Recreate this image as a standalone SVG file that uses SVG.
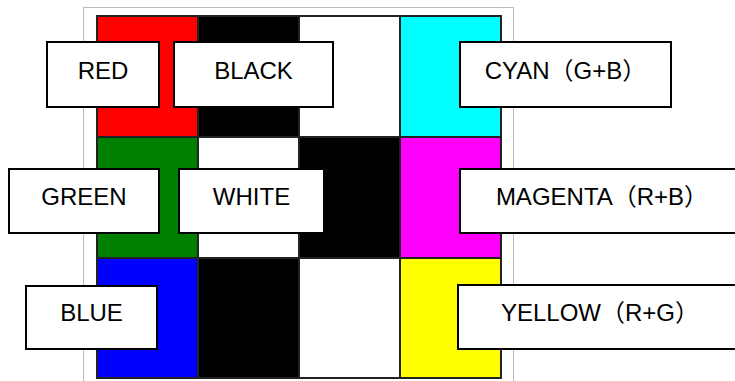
<svg xmlns="http://www.w3.org/2000/svg" width="735" height="381" viewBox="0 0 735 381">
<style>
.cell{stroke:#222;stroke-width:2}
.box rect{fill:#fff;stroke:#000;stroke-width:2}
.box text{font-family:"Liberation Sans","Noto Sans CJK SC",Arial,sans-serif;font-size:24px;fill:#000;text-anchor:middle}
</style>
<rect x="0" y="0" width="735" height="381" fill="#fff"/>
<rect x="83.5" y="7.5" width="430" height="380" fill="#fff" stroke="#bbb" stroke-width="1"/>
<g id="pattern">
<rect class="cell" x="97" y="16" width="101" height="121" fill="#ff0000"/>
<rect class="cell" x="198" y="16" width="101" height="121" fill="#000"/>
<rect class="cell" x="299" y="16" width="101" height="121" fill="#fff"/>
<rect class="cell" x="400" y="16" width="101" height="121" fill="#00ffff"/>
<rect class="cell" x="97" y="137" width="101" height="121" fill="#008000"/>
<rect class="cell" x="198" y="137" width="101" height="121" fill="#fff"/>
<rect class="cell" x="299" y="137" width="101" height="121" fill="#000"/>
<rect class="cell" x="400" y="137" width="101" height="121" fill="#ff00ff"/>
<rect class="cell" x="97" y="258" width="101" height="120" fill="#0000ff"/>
<rect class="cell" x="198" y="258" width="101" height="120" fill="#000"/>
<rect class="cell" x="299" y="258" width="101" height="120" fill="#fff"/>
<rect class="cell" x="400" y="258" width="101" height="120" fill="#ffff00"/>
</g>
<g id="connectors"></g>
<g id="red" class="box"><rect x="47" y="42" width="112" height="65"/><text x="103" y="79">RED</text></g>
<g id="black" class="box"><rect x="174" y="42" width="159" height="65"/><text x="253.5" y="79">BLACK</text></g>
<g id="cyan" class="box"><rect x="460" y="42" width="211" height="65"/><text x="565.5" y="79">CYAN（G+B）</text></g>
<g id="green" class="box"><rect x="9" y="169" width="150" height="64"/><text x="84" y="205">GREEN</text></g>
<g id="white" class="box"><rect x="179" y="169" width="145" height="64"/><text x="251.5" y="205">WHITE</text></g>
<g id="magenta" class="box"><rect x="460" y="169" width="284" height="64"/><text x="602" y="205">MAGENTA（R+B）</text></g>
<g id="blue" class="box"><rect x="26" y="286" width="131" height="63"/><text x="91.5" y="321">BLUE</text></g>
<g id="yellow" class="box"><rect x="458" y="285" width="284" height="64"/><text x="600" y="321">YELLOW（R+G）</text></g>
</svg>
